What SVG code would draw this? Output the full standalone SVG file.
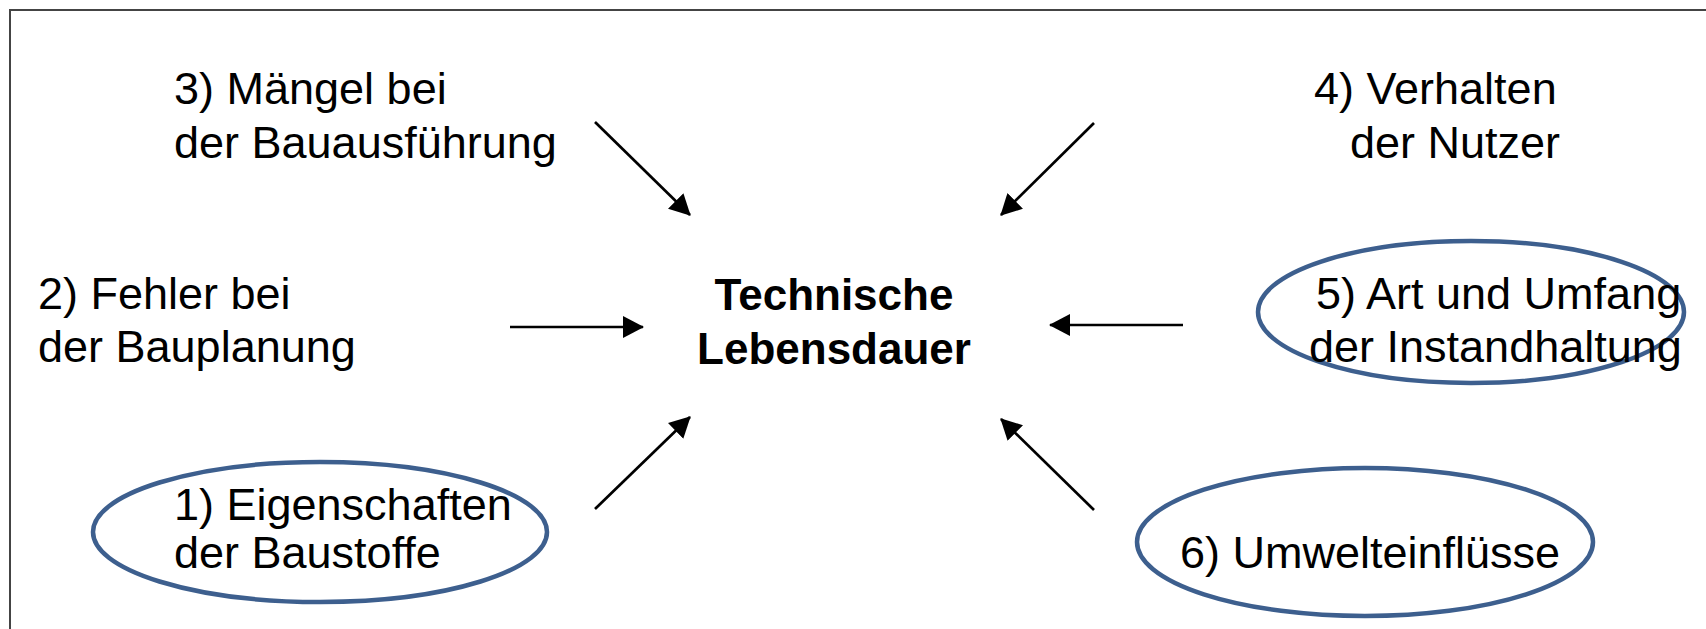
<svg xmlns="http://www.w3.org/2000/svg" width="1706" height="629" viewBox="0 0 1706 629">
<defs>
<style>
.t{font-family:"Liberation Sans",Arial,sans-serif;font-size:45px;fill:#000}
.b{font-family:"Liberation Sans",Arial,sans-serif;font-size:44px;font-weight:bold;fill:#000}
.e{fill:none;stroke:#3d5f8e;stroke-width:4.5}
.c{stroke:#000;stroke-width:2.7;fill:none;marker-end:url(#ah)}
</style>
<marker id="ah" markerWidth="22" markerHeight="22" refX="20" refY="11" orient="auto" markerUnits="userSpaceOnUse">
<path d="M0,0 L21,11 L0,22 z" fill="#000"/>
</marker>
</defs>
<rect width="1706" height="629" fill="#fff"/>
<path d="M10,629 L10,10 L1706,10" fill="none" stroke="#444" stroke-width="2"/>
<g id="center"><text class="b" x="834" y="310" text-anchor="middle">Technische</text><text class="b" x="834" y="364" text-anchor="middle">Lebensdauer</text></g>
<g id="n3"><text class="t" x="174" y="104">3) Mängel bei</text><text class="t" x="174" y="158">der Bauausführung</text></g>
<g id="n4"><text class="t" x="1314" y="104">4) Verhalten</text><text class="t" x="1350" y="158">der Nutzer</text></g>
<g id="n2"><text class="t" x="38" y="309">2) Fehler bei</text><text class="t" x="38" y="362">der Bauplanung</text></g>
<g id="n5"><ellipse class="e" cx="1471" cy="312" rx="213" ry="71"/><text class="t" x="1316" y="309">5) Art und Umfang</text><text class="t" x="1309" y="362">der Instandhaltung</text></g>
<g id="n1"><ellipse class="e" cx="320" cy="532" rx="227" ry="70"/><text class="t" x="174" y="520">1) Eigenschaften</text><text class="t" x="174" y="568">der Baustoffe</text></g>
<g id="n6"><ellipse class="e" cx="1365" cy="542" rx="228" ry="74"/><text class="t" x="1180" y="568">6) Umwelteinflüsse</text></g>
<g id="connectors">
<line class="c" x1="595" y1="122" x2="690" y2="215"/>
<line class="c" x1="1094" y1="123" x2="1001" y2="215"/>
<line class="c" x1="510" y1="327" x2="643" y2="327"/>
<line class="c" x1="1183" y1="325" x2="1050" y2="325"/>
<line class="c" x1="595" y1="509" x2="690" y2="417"/>
<line class="c" x1="1094" y1="510" x2="1001" y2="419"/>
</g>
</svg>
